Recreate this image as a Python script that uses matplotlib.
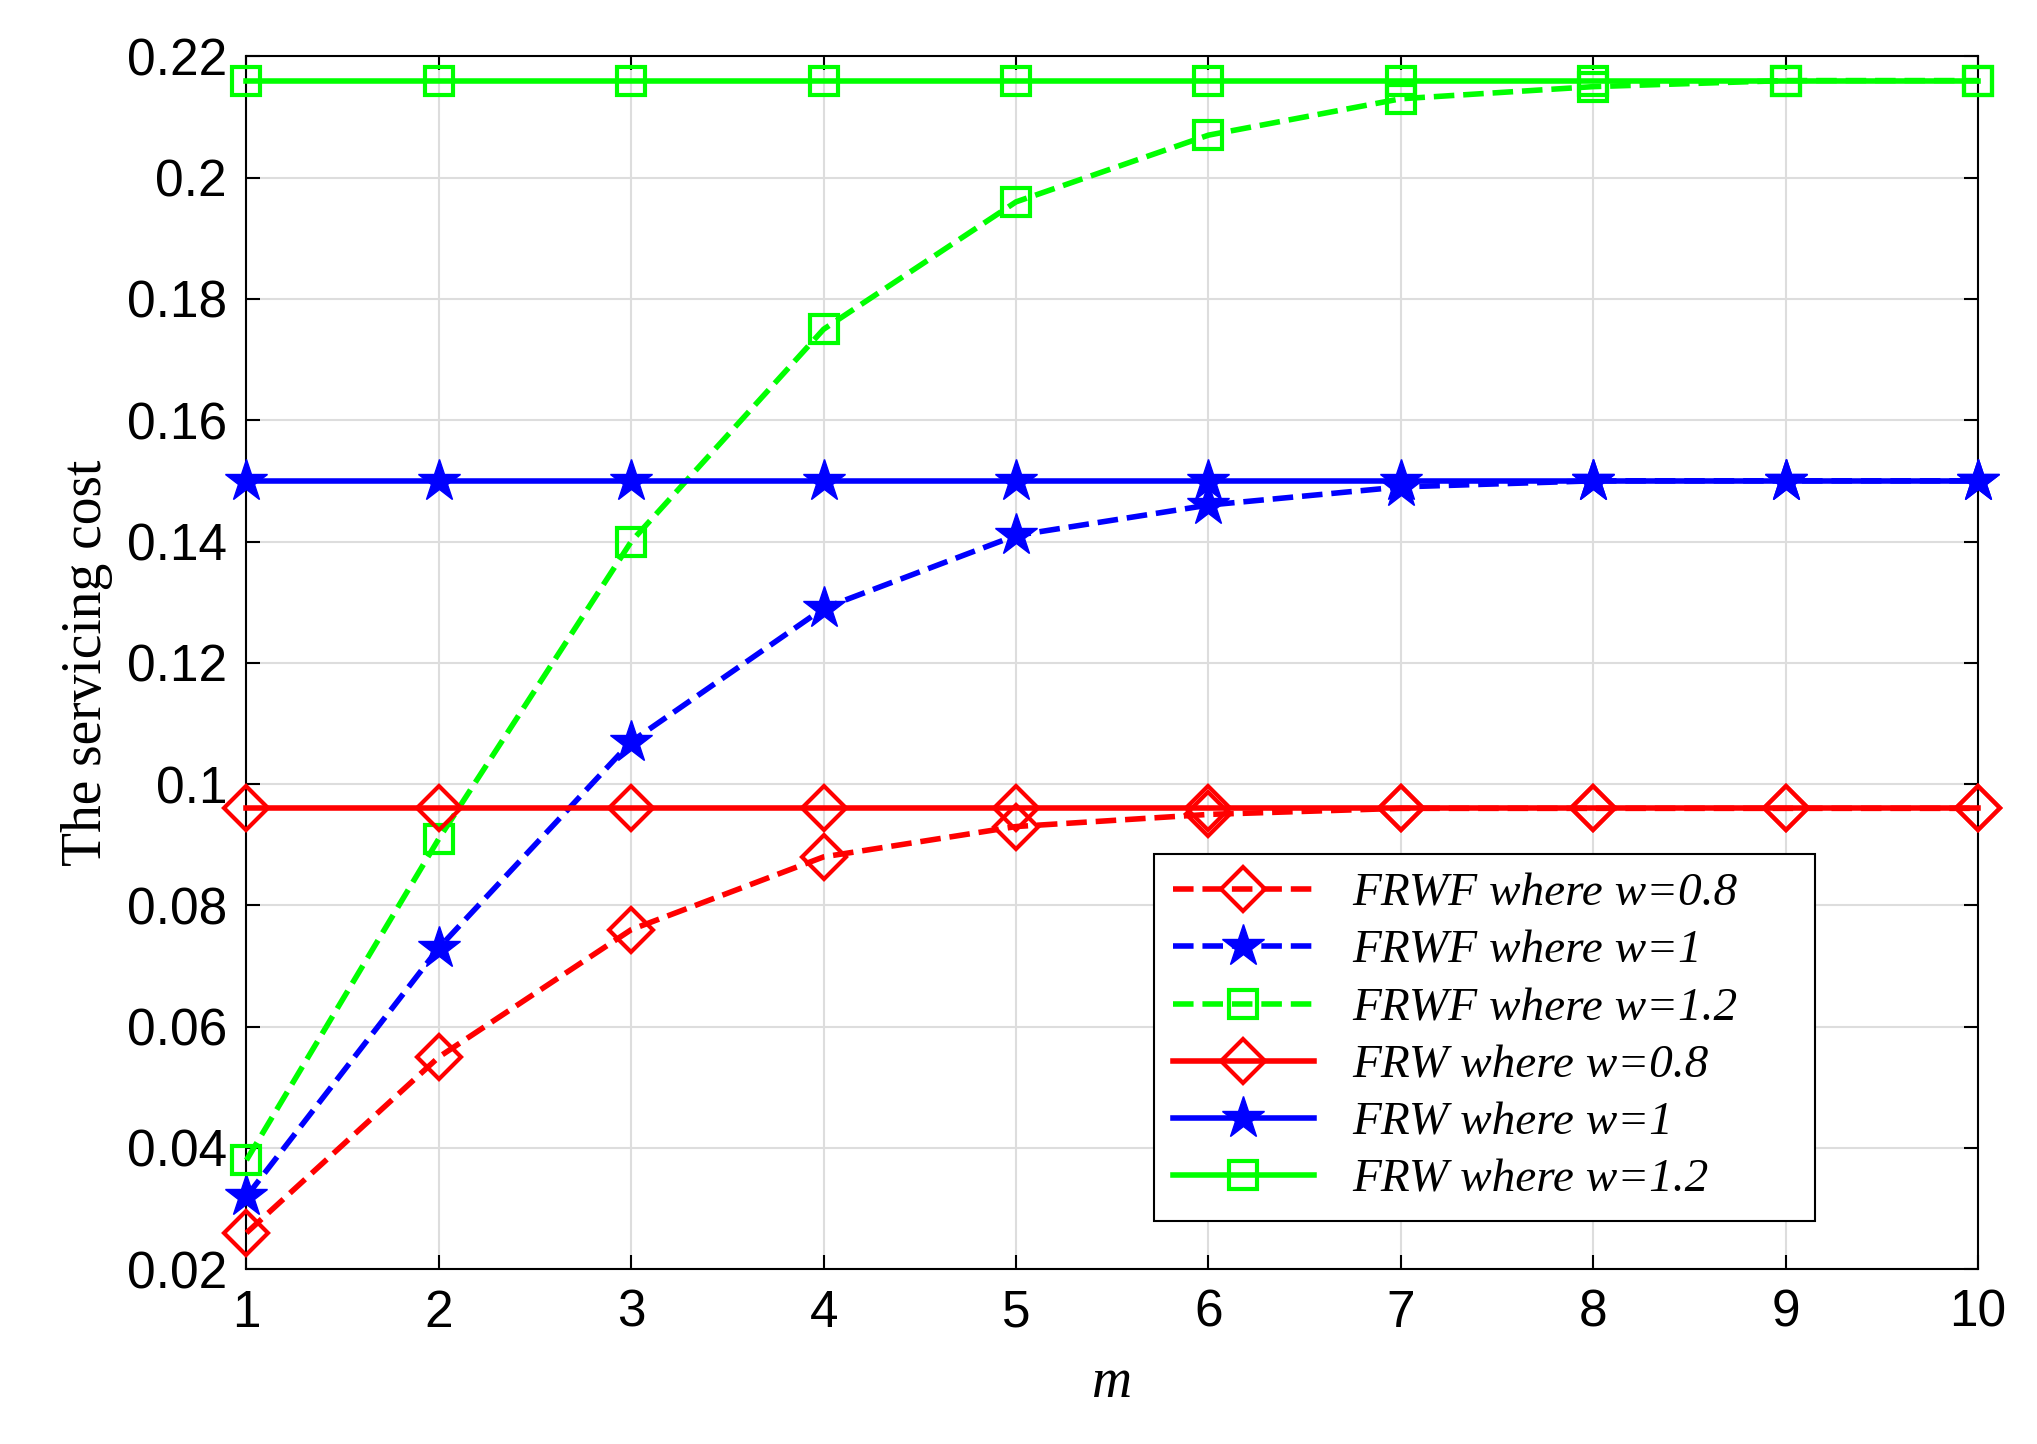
import matplotlib
matplotlib.use("Agg")
import matplotlib.pyplot as plt

m = list(range(1, 11))
frwf_08 = [0.026, 0.055, 0.076, 0.088, 0.093, 0.095, 0.096, 0.096, 0.096, 0.096]
frwf_1 = [0.032, 0.073, 0.107, 0.129, 0.141, 0.146, 0.149, 0.150, 0.150, 0.150]
frwf_12 = [0.038, 0.091, 0.140, 0.175, 0.196, 0.207, 0.213, 0.215, 0.216, 0.216]
frw_08 = [0.096] * 10
frw_1 = [0.150] * 10
frw_12 = [0.216] * 10
labels = ["FRWF where w=0.8", "FRWF where w=1", "FRWF where w=1.2",
          "FRW where w=0.8", "FRW where w=1", "FRW where w=1.2"]

fig = plt.figure(figsize=(20.37, 14.44), dpi=100)
ax = fig.add_axes([0.121, 0.121, 0.850, 0.840])
lw = 4
kw = dict(clip_on=False, zorder=3)
ax.plot(m, frwf_08, 'r--D', lw=lw, ms=22, mfc='none', mew=3, label=labels[0], **kw)
ax.plot(m, frwf_1, 'b--*', lw=lw, ms=32, label=labels[1], **kw)
ax.plot(m, frwf_12, '--s', color='#00ff00', lw=lw, ms=20, mfc='none', mew=3, label=labels[2], **kw)
ax.plot(m, frw_08, 'r-D', lw=lw, ms=22, mfc='none', mew=3, label=labels[3], **kw)
ax.plot(m, frw_1, 'b-*', lw=lw, ms=32, label=labels[4], **kw)
ax.plot(m, frw_12, '-s', color='#00ff00', lw=lw, ms=20, mfc='none', mew=3, label=labels[5], **kw)

ax.set_xlim(1, 10)
ax.set_ylim(0.02, 0.22)
ax.set_xticks(m)
ax.set_yticks([0.02, 0.04, 0.06, 0.08, 0.1, 0.12, 0.14, 0.16, 0.18, 0.2, 0.22])
ax.set_yticklabels(["0.02", "0.04", "0.06", "0.08", "0.1", "0.12", "0.14", "0.16", "0.18", "0.2", "0.22"])
ax.grid(True, color='#dddddd', lw=1.5)
for s in ax.spines.values():
    s.set_linewidth(1.5)
ax.tick_params(labelsize=37, direction='in', length=10, width=1.5, top=True, right=True, pad=14)
for t in ax.get_xticklabels() + ax.get_yticklabels():
    t.set_family('Liberation Sans')
ax.set_xlabel("m", fontsize=40, family='Liberation Serif', style='italic', labelpad=14)
ax.set_ylabel("The servicing cost", fontsize=40, family='Liberation Serif', labelpad=10)
leg = ax.legend(loc='lower left', bbox_to_anchor=(0.524, 0.040, 0.382, 0.311), mode='expand',
                prop={'family': 'Liberation Serif', 'style': 'italic', 'size': 34},
                fancybox=False, edgecolor='black', framealpha=1, handlelength=3, borderaxespad=0,
                labelspacing=0.3)
leg.get_frame().set_linewidth(1.5)
fig.savefig("out.png", dpi=100)
